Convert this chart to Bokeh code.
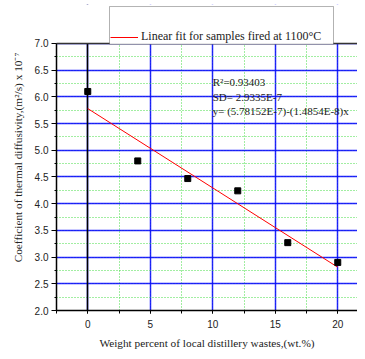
from bokeh.plotting import figure
from bokeh.models import (Range1d, SingleIntervalTicker, FixedTicker, NumeralTickFormatter, Span,
                          Label, Legend, LegendItem, Grid, BoxAnnotation)
from bokeh.embed import file_html
from bokeh.resources import INLINE

# ---- data ----
wt_percent = [0, 4, 8, 12, 16, 20]
diffusivity = [6.10, 4.80, 4.47, 4.24, 3.27, 2.90]
fit_x = [0, 20]
fit_y = [5.78, 2.81]
stats_text = ["R\u00b2=0.93403", "SD= 2.9335E-7", "y= (5.78152E-7)-(1.4854E-8)x"]
stats_y = [6.28, 5.99, 5.73]
stats_x = 10
y_lo, y_hi = 2.0, 7.0

SERIF = "Liberation Serif"
SANS = "Liberation Sans"

p = figure(width=357, height=351, output_backend="svg", toolbar_location=None,
           x_range=Range1d(-2.5, 21.58), y_range=Range1d(y_lo, 7.728),
           min_border_left=56, min_border_right=0, min_border_top=4, min_border_bottom=40)
p.outline_line_color = None
p.background_fill_color = "white"
p.border_fill_color = "white"

# axes
p.xaxis.ticker = SingleIntervalTicker(interval=5, num_minor_ticks=2)
p.yaxis.ticker = SingleIntervalTicker(interval=0.5, num_minor_ticks=2)
p.yaxis.formatter = NumeralTickFormatter(format="0.0")
p.yaxis.bounds = (y_lo, y_hi)
for ax in (p.xaxis[0], p.yaxis[0]):
    ax.axis_line_color = "black"
    ax.axis_line_width = 1.5
    ax.major_tick_line_color = "black"
    ax.minor_tick_line_color = "black"
    ax.major_tick_in = 0
    ax.minor_tick_in = 0
    ax.major_label_text_font = SANS
    ax.major_label_text_font_size = "10px"
    ax.major_label_text_color = "#222222"
    ax.axis_label_text_font = SERIF
    ax.axis_label_text_font_style = "normal"
    ax.axis_label_text_font_size = "11.3px"
    ax.axis_label_text_color = "#222222"
p.yaxis.major_tick_out = 5
p.yaxis.minor_tick_out = 2
p.xaxis.major_tick_out = 3
p.xaxis.minor_tick_out = 3
p.yaxis.major_label_standoff = 3
p.xaxis.major_label_standoff = 6
p.xaxis.axis_label = "Weight percent of local distillery wastes,(wt.%)"
p.yaxis.axis_label = "Coefficient of thermal diffusivity,(m\u00b2/s) x 10\u207b\u2077"
p.xaxis.axis_label_standoff = 6
p.yaxis.axis_label_standoff = 8

# grids
for g in (p.xgrid[0], p.ygrid[0]):
    g.grid_line_color = "#0000ff"
    g.grid_line_width = 1.5
    g.grid_line_alpha = 0.85
    g.minor_grid_line_color = "#44dd44"
    g.minor_grid_line_dash = "1 2"
    g.minor_grid_line_width = 1

# zero line (black)
p.add_layout(Grid(dimension=0, ticker=FixedTicker(ticks=[0]),
                  grid_line_color="black", grid_line_width=1.5))
# blank out grid above the top of the y axis
p.add_layout(BoxAnnotation(bottom=y_hi, fill_color="white", fill_alpha=1,
                           line_color=None, level="underlay"))
# top border
p.add_layout(Span(location=y_hi, dimension="width", line_color="#333333", line_width=1.5))

# data
fit = p.line(fit_x, fit_y, line_color="red", line_width=1)
p.scatter(wt_percent, diffusivity, marker="square", size=6, color="black")

for t, yy in zip(stats_text, stats_y):
    p.add_layout(Label(x=stats_x, y=yy, text=t, text_font=SERIF, text_font_size="11px",
                       text_baseline="middle", text_color="#222222"))

# legend frame (tall box, entry sits at its bottom)
p.add_layout(BoxAnnotation(left=1.74, right=19.66, bottom=6.985, top=7.69,
                           fill_color="white", fill_alpha=1,
                           line_color="black", line_width=1))
legend = Legend(items=[LegendItem(label="Linear fit for samples fired at 1100\u00b0C",
                                  renderers=[fit])],
                location=(54, 266), padding=3, margin=0,
                glyph_width=28, glyph_height=14, label_height=14, label_standoff=3,
                label_text_font=SERIF, label_text_font_size="12px", label_text_color="#222222",
                border_line_color=None, background_fill_alpha=0)
p.add_layout(legend, "center")

open("out.html", "w").write(file_html(p, INLINE))
